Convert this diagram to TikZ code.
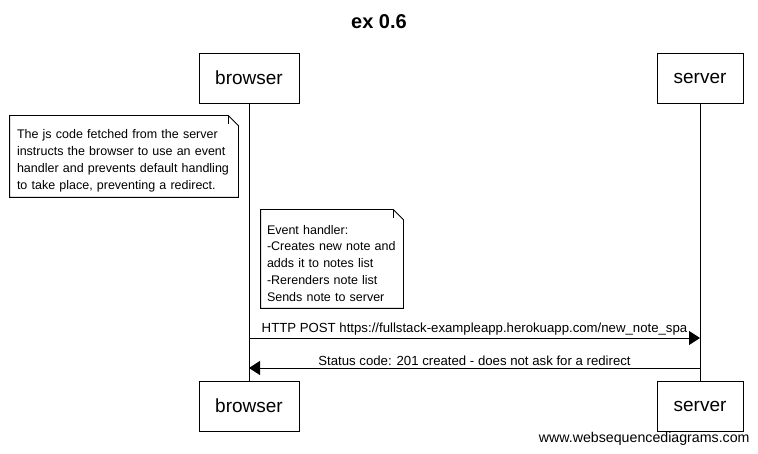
\documentclass[tikz,border=0pt]{standalone}
\usepackage{fontspec}
\setmainfont{Liberation Sans}
\usetikzlibrary{positioning,arrows.meta}
\newcommand{\notestrut}{\rule{0pt}{17.5pt}}

\begin{document}
\begin{tikzpicture}[x=1pt, y=-1pt,
  actor/.style={draw, minimum width=100pt, minimum height=50pt, inner sep=0pt,
    font=\fontsize{19}{22}\selectfont},
  note/.style={align=left, inner xsep=7pt, inner ysep=0pt,
    font=\fontsize{12.5}{16.7}\selectfont},
  msg/.style={font=\fontsize{13.2}{15}\selectfont, inner sep=2pt, above},
  >={Triangle[length=11pt, width=14pt]}, line width=0.8pt, color=black
]
\useasboundingbox (0,0) rectangle (758,454);

\node[font=\fontsize{20}{24}\selectfont\bfseries] (title) at (379,22) {ex 0.6};

\node[actor] (btop) at (249,78)  {browser};
\node[actor, minimum width=86pt] (stop) at (700,78) {server};
\node[actor] (bbot) at (249,406) {browser};
\node[actor, minimum width=86pt] (sbot) at (700,406) {server};

\draw (btop) -- (bbot);
\draw (stop) -- (sbot);

\node[note, text width=214pt, minimum height=81pt] (n1) at (124,156.5)
  {\notestrut The js code fetched from the server\\instructs the browser to use an event\\handler and prevents default handling\\to take place, preventing a redirect.};
\draw (n1.north west) -- ([xshift=-10pt]n1.north east) -- ([yshift=-10pt]n1.north east)
  -- (n1.south east) -- (n1.south west) -- cycle;
\draw ([xshift=-10pt]n1.north east) -- ([xshift=-10pt, yshift=-8pt]n1.north east);

\node[note, inner xsep=6pt, text width=130pt, minimum height=98pt] (n2) at (332,259)
  {\notestrut Event handler:\\-Creates new note and\\adds it to notes list\\-Rerenders note list\\Sends note to server};
\draw (n2.north west) -- ([xshift=-10pt]n2.north east) -- ([yshift=-10pt]n2.north east)
  -- (n2.south east) -- (n2.south west) -- cycle;
\draw ([xshift=-10pt]n2.north east) -- ([xshift=-10pt, yshift=-8pt]n2.north east);

\coordinate (bpost) at (249,338);
\coordinate (spost) at (700,338);
\coordinate (bresp) at (249,368);
\coordinate (sresp) at (700,368);

\draw[->] (bpost) -- node[msg]{HTTP POST https://fullstack-exampleapp.herokuapp.com/new\_note\_spa} (spost);
\draw[->] (sresp) -- node[msg]{Status code: 201 created - does not ask for a redirect} (bresp);

\node[anchor=east, font=\fontsize{14.2}{16}\selectfont, inner sep=0pt] (wsd) at (750,439) {www.websequencediagrams.com};
\end{tikzpicture}
\end{document}
